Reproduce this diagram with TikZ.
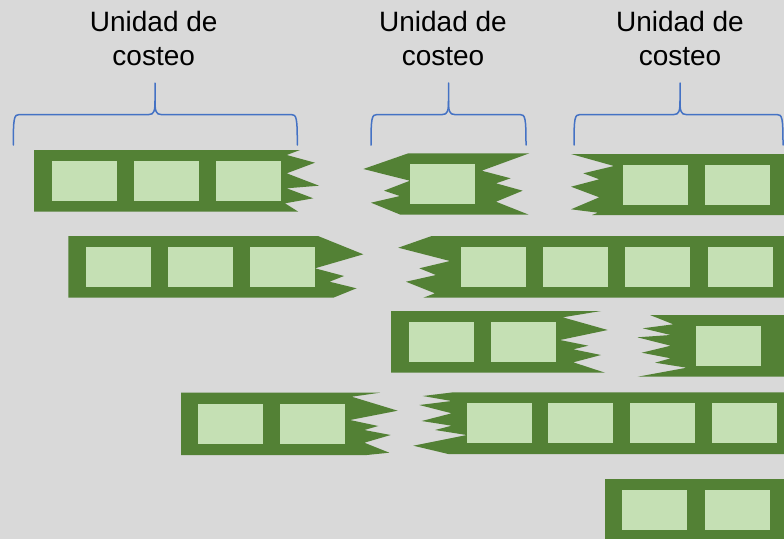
\documentclass[tikz,border=0pt]{standalone}
\usepackage{fontspec}
\setmainfont{Liberation Sans}
\definecolor{bg}{HTML}{D9D9D9}
\definecolor{film}{HTML}{538135}
\definecolor{cellc}{HTML}{C5E0B4}
\definecolor{bracec}{HTML}{4472C4}
\newcommand\costbrace[3]{%
  \draw[brace] (#1,145) .. controls (#1,118) and (#1+0.7,114.5) .. (#1+6,114.5) -- (#2-6,114.5)
    .. controls (#2-1,114.5) and (#2,111) .. (#2,101) -- (#2,83);
  \draw[brace] (#2,101) .. controls (#2,111) and (#2+1,114.5) .. (#2+6,114.5) -- (#3-6,114.5)
    .. controls (#3-0.7,114.5) and (#3,118) .. (#3,145);}
\begin{document}
\begin{tikzpicture}[x=1pt,y=-1pt,
  strip/.style={fill=film,draw=none},
  cell/.style={fill=cellc,draw=none,minimum width=65pt,minimum height=40pt,inner sep=0pt,outer sep=0pt},
  brace/.style={draw=bracec,line width=1.5pt,line cap=round},
  lbl/.style={font=\fontsize{28}{33.3}\selectfont,align=center,inner sep=0pt,anchor=north,text=black}]
\fill[bg] (0,0) rectangle (784,539);
\useasboundingbox (0,0) rectangle (784,539);
% labels
\node[lbl] (t1) at (153.7,11.3) {Unidad de\\costeo};
\node[lbl] (t2) at (443,11.3) {Unidad de\\costeo};
\node[lbl] (t3) at (680,11.3) {Unidad de\\costeo};
% braces
\costbrace{13.3}{155}{297.3}
\costbrace{371}{448.5}{526}
\costbrace{574}{680}{783}
% strip A
\path[strip] (34,150) -- (300,150) -- (286.7,155) -- (315,162.7) -- (286.7,173.3) -- (319,185.7) -- (286.7,188.3) -- (313.3,198.3) -- (285,203.3) -- (298.3,211.7) -- (34,211.7) -- cycle;
\node[cell] (a1) at (84.5,181) {};
\node[cell] (a2) at (166.5,181) {};
\node[cell] (a3) at (248.5,181) {};
% strip B
\path[strip] (408.3,153.3) -- (529.3,153.3) -- (481.7,170.7) -- (510.7,178.3) -- (496,183.3) -- (522.7,190.7) -- (496,201.7) -- (528.3,214.5) -- (400,214.5) -- (371,202.7) -- (400,196) -- (384,190.7) -- (410,180.7) -- (363.3,169) -- cycle;
\node[cell] (b1) at (442.5,184) {};
% strip C
\path[strip] (571,154) -- (784,154) -- (784,215) -- (592,215) -- (598,212.7) -- (571,209.3) -- (599.3,197.3) -- (571,186.7) -- (599.3,179.3) -- (583.3,173.3) -- (614,166) -- cycle;
\node[cell] (c1) at (655.5,185) {};
\node[cell] (c2) at (737.5,185) {};
% strip D
\path[strip] (68.3,236) -- (318,236) -- (363.3,254.3) -- (315,268.3) -- (344,276) -- (329.5,281.7) -- (356.5,288.3) -- (333.3,297.7) -- (68.3,297.7) -- cycle;
\node[cell] (d1) at (118.5,267) {};
\node[cell] (d2) at (200.5,267) {};
\node[cell] (d3) at (282.5,267) {};
% strip E
\path[strip] (431.7,236) -- (784,236) -- (784,297.7) -- (423.3,297.7) -- (435,293.3) -- (406,281.7) -- (436,275) -- (419.3,268.3) -- (450,261) -- (398.3,247.7) -- cycle;
\node[cell] (e1) at (493.5,267) {};
\node[cell] (e2) at (575.5,267) {};
\node[cell] (e3) at (657.5,267) {};
\node[cell] (e4) at (740.5,267) {};
% strip F
\path[strip] (391,311) -- (601,311) -- (562.7,317.3) -- (607.7,330) -- (560,340) -- (588.3,345.7) -- (573.3,349.3) -- (601,355) -- (573.3,362.3) -- (605,372.7) -- (391,372.7) -- cycle;
\node[cell] (f1) at (441.5,342) {};
\node[cell] (f2) at (523.5,342) {};
% strip G
\path[strip] (650,315) -- (784,315) -- (784,376.7) -- (637.7,376.7) -- (686.7,367.7) -- (655,362.7) -- (670.7,358.3) -- (641.7,352.7) -- (670.7,345.7) -- (637.3,337.3) -- (670.7,335) -- (642.7,328.3) -- (673.3,324.3) -- cycle;
\node[cell] (g1) at (728.5,346) {};
% strip H
\path[strip] (181,392.7) -- (380,392.7) -- (351.7,396.7) -- (397.7,410.7) -- (350,420) -- (378.3,426) -- (364.3,430) -- (390.7,435) -- (364.3,442.7) -- (389.3,452.7) -- (366.7,455) -- (181,455) -- cycle;
\node[cell] (h1) at (230.5,424) {};
\node[cell] (h2) at (312.5,424) {};
% strip I
\path[strip] (453.3,392.3) -- (784,392.3) -- (784,454) -- (448.3,454) -- (413.3,445.7) -- (466.7,435) -- (435,430) -- (451.7,425.7) -- (421.7,421) -- (451.7,413.3) -- (419.3,405) -- (451.7,401) -- (422.7,396) -- cycle;
\node[cell] (i1) at (499.5,423) {};
\node[cell] (i2) at (580.5,423) {};
\node[cell] (i3) at (662.5,423) {};
\node[cell] (i4) at (744.5,423) {};
% strip J
\path[strip] (605,479) -- (784,479) -- (784,539) -- (605,539) -- cycle;
\node[cell] (j1) at (654.5,510) {};
\node[cell] (j2) at (737.5,510) {};
\end{tikzpicture}
\end{document}
